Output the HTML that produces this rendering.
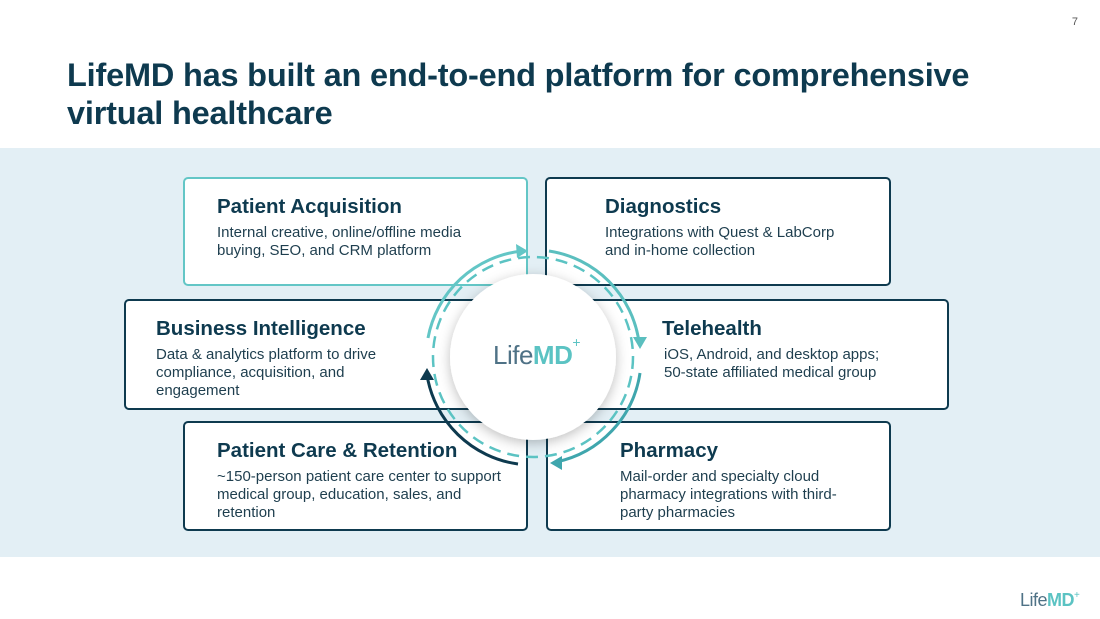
<!DOCTYPE html>
<html><head><meta charset="utf-8"><style>
*{margin:0;padding:0;box-sizing:border-box}
body{width:1100px;height:619px;background:#fff;position:relative;overflow:hidden;font-family:"Liberation Sans",sans-serif;color:#0e3a4f}
.num{position:absolute;right:22px;top:16px;font-size:11px;color:#555}
h1{position:absolute;left:67px;top:56px;font-size:32.5px;line-height:38px;font-weight:bold;color:#0e3a4f;letter-spacing:-0.2px}
.band{position:absolute;left:0;top:148px;width:1100px;height:409px;background:#e3eff5}
.box{position:absolute;background:#fff;border:2px solid #0e3a4f;border-radius:5px}
.box h2{position:absolute;font-size:20.5px;line-height:24px;font-weight:bold;top:16px;white-space:nowrap}
.box p{position:absolute;font-size:15px;line-height:18px;top:45px;color:#1e3e4e;white-space:nowrap}
.logo{position:absolute;font-size:26px;color:#4f7286;letter-spacing:-0.5px}
.logo b{color:#5bc3c3}
</style></head><body>
<div class="num">7</div>
<h1>LifeMD has built an end-to-end platform for comprehensive<br>virtual healthcare</h1>
<div class="band"></div>
<div class="box" style="left:183px;top:177px;width:345px;height:109px;border-color:#63c6c6"><h2 style="left:32px">Patient Acquisition</h2><p style="left:32px">Internal creative, online/offline media<br>buying, SEO, and CRM platform</p></div>
<div class="box" style="left:545px;top:177px;width:346px;height:109px"><h2 style="left:58px">Diagnostics</h2><p style="left:58px">Integrations with Quest &amp; LabCorp<br>and in-home collection</p></div>
<div class="box" style="left:124px;top:299px;width:400px;height:111px"><h2 style="left:30px">Business Intelligence</h2><p style="left:30px">Data &amp; analytics platform to drive<br>compliance, acquisition, and<br>engagement</p></div>
<div class="box" style="left:545px;top:299px;width:404px;height:111px"><h2 style="left:115px">Telehealth</h2><p style="left:117px">iOS, Android, and desktop apps;<br>50-state affiliated medical group</p></div>
<div class="box" style="left:183px;top:421px;width:345px;height:110px"><h2 style="left:32px">Patient Care &amp; Retention</h2><p style="left:32px">~150-person patient care center to support<br>medical group, education, sales, and<br>retention</p></div>
<div class="box" style="left:546px;top:421px;width:345px;height:110px"><h2 style="left:72px">Pharmacy</h2><p style="left:72px">Mail-order and specialty cloud<br>pharmacy integrations with third-<br>party pharmacies</p></div>
<svg style="position:absolute;left:0;top:0" width="1100" height="619">
<defs><filter id="sh" x="-30%" y="-30%" width="160%" height="160%"><feDropShadow dx="0" dy="3" stdDeviation="6" flood-color="#000" flood-opacity="0.25"/></filter></defs>
<circle cx="533" cy="357" r="100" fill="none" stroke="#5bc3c3" stroke-width="2.5" stroke-dasharray="12 7"/>
<circle cx="533" cy="357" r="83" fill="#fff" filter="url(#sh)"/>
<g fill="none" stroke-width="3">
<path d="M428 338 A107 107 0 0 1 522 251" stroke="#63c6c6"/>
<path d="M549 251 A107 107 0 0 1 639 342" stroke="#5bbfbf"/>
<path d="M640 373 A107 107 0 0 1 556 462" stroke="#3fa6ad"/>
<path d="M518 464 A107 107 0 0 1 427 375" stroke="#0e3a4f"/>
</g>
<polygon points="528,251 516,244 517,258" fill="#63c6c6"/>
<polygon points="640,349 633,337 647,337" fill="#5bbfbf"/>
<polygon points="550,463 562,456 562,470" fill="#3fa6ad"/>
<polygon points="427,368 420,380 434,380" fill="#0e3a4f"/>
</svg>
<div class="logo" style="left:493px;top:340px">Life<b>MD</b><span style="font-size:14px;color:#5bc3c3;vertical-align:top;position:relative;top:-6px">+</span></div>
<div class="logo" style="left:1020px;top:590px;font-size:18px">Life<b>MD</b><span style="font-size:10px;color:#5bc3c3;vertical-align:top">+</span></div>
</body></html>
